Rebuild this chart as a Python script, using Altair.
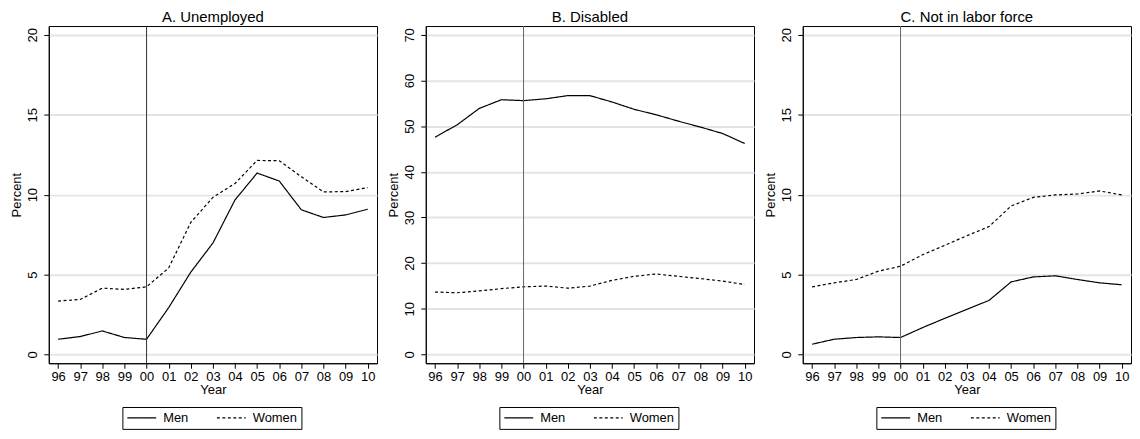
import altair as alt
import pandas as pd

year_labels = ["96", "97", "98", "99", "00", "01", "02", "03", "04", "05", "06", "07", "08", "09", "10"]
series = ["Men", "Women"]

titles = ["A. Unemployed", "B. Disabled", "C. Not in labor force"]

unemp_men = [0.95, 1.12, 1.47, 1.06, 0.95, 2.93, 5.15, 6.97, 9.67, 11.35, 10.85, 9.05, 8.57, 8.73, 9.09]
unemp_women = [3.34, 3.44, 4.15, 4.07, 4.23, 5.41, 8.26, 9.83, 10.7, 12.14, 12.12, 11.12, 10.17, 10.19, 10.44]

dis_men = [47.6, 50.3, 53.9, 55.8, 55.6, 56.0, 56.7, 56.7, 55.3, 53.7, 52.5, 51.1, 49.8, 48.4, 46.2]
dis_women = [13.65, 13.5, 13.9, 14.4, 14.8, 14.96, 14.5, 14.96, 16.2, 17.1, 17.6, 17.1, 16.6, 16.05, 15.3]

nilf_men = [0.64, 0.95, 1.06, 1.1, 1.06, 1.68, 2.26, 2.82, 3.38, 4.54, 4.85, 4.92, 4.69, 4.48, 4.36]
nilf_women = [4.23, 4.48, 4.69, 5.21, 5.52, 6.24, 6.83, 7.43, 8.0, 9.29, 9.83, 9.98, 10.04, 10.23, 9.98]

y_ticks = [[0, 5, 10, 15, 20], [0, 10, 20, 30, 40, 50, 60, 70], [0, 5, 10, 15, 20]]
y_domains = [[-0.55, 20.55], [-1.95, 71.95], [-0.55, 20.55]]
break_year = "00"

FONT = "Liberation Sans"
label_expr = "[" + ",".join("'%s'" % l for l in year_labels) + "][datum.value]"


def panel(title, men, women, yt, ydom, rule_color):
    rows = []
    for i, lab in enumerate(year_labels):
        rows.append({"idx": i, "value": men[i], "series": series[0]})
        rows.append({"idx": i, "value": women[i], "series": series[1]})
    df = pd.DataFrame(rows)
    x = alt.X(
        "idx:Q",
        scale=alt.Scale(domain=[-0.42, len(year_labels) - 1 + 0.42], nice=False, zero=False),
        axis=alt.Axis(
            values=list(range(len(year_labels))),
            labelExpr=label_expr,
            title="Year",
            grid=False,
            tickSize=5,
            labelPadding=2,
            titlePadding=0,
            labelFontSize=13,
            titleFontSize=13,
            titleFontWeight="normal",
            domainColor="black",
            tickColor="black",
            labelColor="black",
            titleColor="black",
            labelFont=FONT,
            titleFont=FONT,
            labelFlush=False,
            labelOverlap=False,
        ),
    )
    y = alt.Y(
        "value:Q",
        scale=alt.Scale(domain=ydom, nice=False, zero=False),
        axis=alt.Axis(
            values=yt,
            title="Percent",
            grid=True,
            gridColor="#e4e4e4",
            gridWidth=2,
            tickSize=5,
            labelAngle=-90,
            labelAlign="center",
            labelBaseline="bottom",
            labelPadding=4,
            titlePadding=3,
            labelFontSize=13,
            titleFontSize=13,
            titleFontWeight="normal",
            domainColor="black",
            tickColor="black",
            labelColor="black",
            titleColor="black",
            labelFont=FONT,
            titleFont=FONT,
            labelFlush=False,
            labelOverlap=False,
        ),
    )
    lines = alt.Chart(df).mark_line(color="black", strokeWidth=1.2).encode(
        x=x,
        y=y,
        strokeDash=alt.StrokeDash(
            "series:N",
            scale=alt.Scale(domain=series, range=[[1, 0], [3, 2.5]]),
            legend=alt.Legend(
                title=None,
                orient="none",
                legendX=74,
                legendY=383,
                direction="horizontal",
                strokeColor="black",
                fillColor="white",
                padding=4,
                symbolType="stroke",
                symbolSize=841,
                clipHeight=14,
                symbolStrokeWidth=1.2,
                symbolStrokeColor="black",
                labelFontSize=13,
                labelFont=FONT,
                labelColor="black",
                labelOffset=6,
                columnPadding=27,
            ),
        ),
    )
    rule_df = pd.DataFrame({"idx": [year_labels.index(break_year)]})
    rule = alt.Chart(rule_df).mark_rule(color=rule_color, strokeWidth=1).encode(x=x)
    return alt.layer(lines, rule).properties(
        width=330,
        height=339,
        title=alt.TitleParams(title, fontSize=15, font=FONT, fontWeight="normal", color="black", offset=1),
    )


panels = [
    panel(titles[0], unemp_men, unemp_women, y_ticks[0], y_domains[0], "#333333"),
    panel(titles[1], dis_men, dis_women, y_ticks[1], y_domains[1], "#666666"),
    panel(titles[2], nilf_men, nilf_women, y_ticks[2], y_domains[2], "#666666"),
]

chart = (
    alt.hconcat(*panels, spacing=9)
    .resolve_scale(strokeDash="independent", y="independent", x="independent")
    .resolve_legend(strokeDash="independent")
    .configure_view(stroke="black", strokeWidth=1)
    .properties(padding={"left": 2, "top": 0, "right": 0, "bottom": 0}, background="white")
)

chart.save("out.html", embed_options={"renderer": "svg", "actions": False})
